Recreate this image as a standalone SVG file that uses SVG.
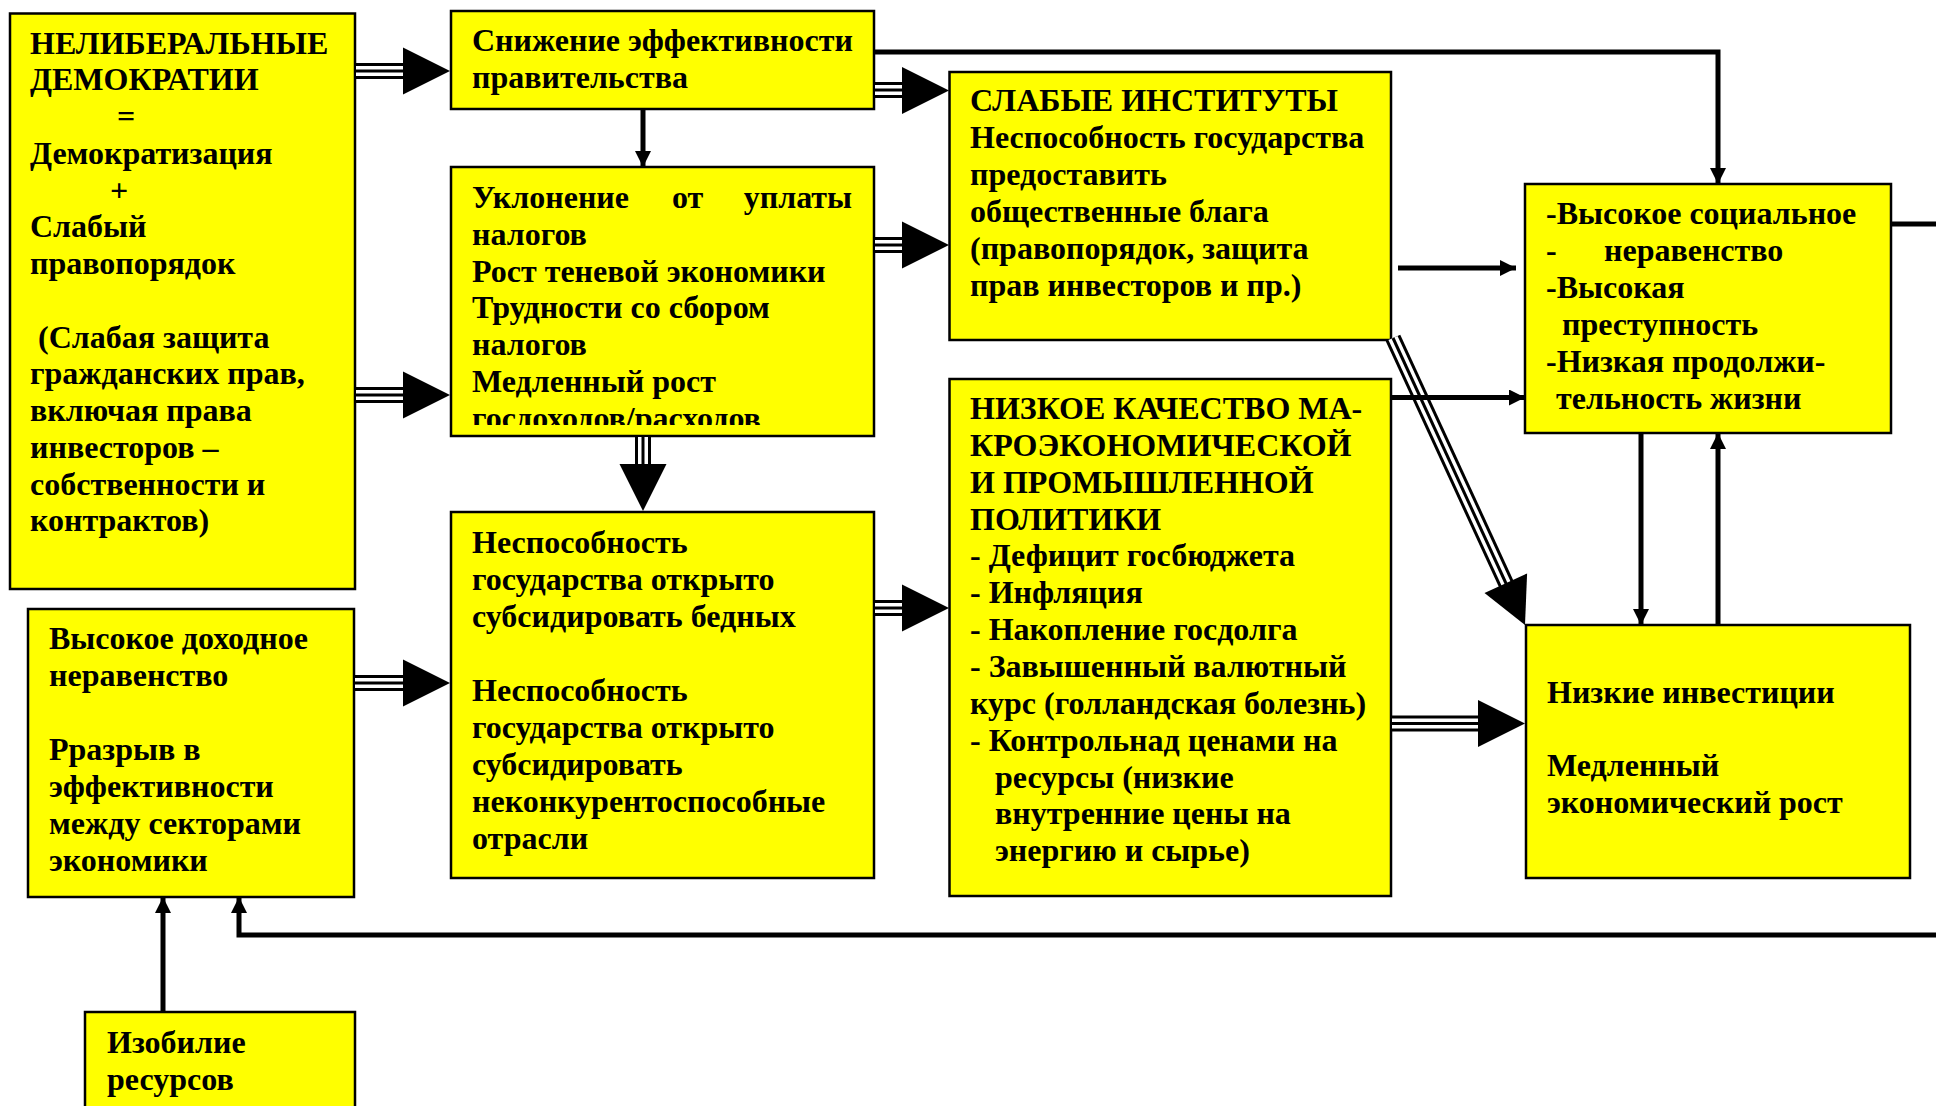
<svg xmlns="http://www.w3.org/2000/svg" width="1936" height="1106" viewBox="0 0 1936 1106">
<style>
.box{fill:#ffff00;stroke:#000;stroke-width:2.5}
.t{font-family:"Liberation Serif","Times New Roman",serif;font-weight:bold;font-size:32px;fill:#000}
.o{fill:none;stroke:#000;stroke-width:16}
.w{fill:none;stroke:#fff;stroke-width:10}
.c{fill:none;stroke:#000;stroke-width:3}
.hd{fill:#000;stroke:none}
.ln{fill:none;stroke:#000;stroke-width:5;marker-end:url(#sa)}
</style>
<defs>
<marker id="sa" viewBox="0 0 16 16" refX="16" refY="8" markerWidth="16" markerHeight="16" markerUnits="userSpaceOnUse" orient="auto">
<path d="M0,0 L16,8 L0,16 Z" fill="#000"/>
</marker>
<clipPath id="clipC"><rect x="451" y="167" width="423" height="258"/></clipPath>
</defs>
<rect width="1936" height="1106" fill="#fff"/>

<g id="nodeA">
<rect class="box" x="10" y="13.5" width="345" height="575.5"/>
<text class="t">
<tspan x="30" y="53.6">НЕЛИБЕРАЛЬНЫЕ</tspan>
<tspan x="30" y="90.4">ДЕМОКРАТИИ</tspan>
<tspan x="117" y="127.1">=</tspan>
<tspan x="30" y="163.9">Демократизация</tspan>
<tspan x="110" y="200.6">+</tspan>
<tspan x="30" y="237.4">Слабый</tspan>
<tspan x="30" y="274.1">правопорядок</tspan>
<tspan x="38" y="347.6">(Слабая защита</tspan>
<tspan x="30" y="384.4">гражданских прав,</tspan>
<tspan x="30" y="421.1">включая права</tspan>
<tspan x="30" y="457.9">инвесторов –</tspan>
<tspan x="30" y="494.6">собственности и</tspan>
<tspan x="30" y="531.4">контрактов)</tspan>
</text>
</g>

<g id="nodeB">
<rect class="box" x="451" y="11" width="423" height="98"/>
<text class="t">
<tspan x="472" y="51">Снижение эффективности</tspan>
<tspan x="472" y="87.5">правительства</tspan>
</text>
</g>

<g id="nodeC">
<rect class="box" x="451" y="167" width="423" height="269"/>
<g clip-path="url(#clipC)">
<text class="t">
<tspan x="472" y="208">Уклонение</tspan>
<tspan x="672" y="208">от</tspan>
<tspan x="860" y="208" text-anchor="end">уплаты</tspan>
<tspan x="472" y="244.8">налогов</tspan>
<tspan x="472" y="281.6">Рост теневой экономики</tspan>
<tspan x="472" y="318.4">Трудности со сбором</tspan>
<tspan x="472" y="355.2">налогов</tspan>
<tspan x="472" y="392">Медленный рост</tspan>
<tspan x="472" y="428.8">госдоходов/расходов</tspan>
</text>
</g>
</g>

<g id="nodeD">
<rect class="box" x="451" y="512" width="423" height="366"/>
<text class="t">
<tspan x="472" y="553">Неспособность</tspan>
<tspan x="472" y="590">государства открыто</tspan>
<tspan x="472" y="627">субсидировать бедных</tspan>
<tspan x="472" y="701">Неспособность</tspan>
<tspan x="472" y="738">государства открыто</tspan>
<tspan x="472" y="775">субсидировать</tspan>
<tspan x="472" y="812">неконкурентоспособные</tspan>
<tspan x="472" y="849">отрасли</tspan>
</text>
</g>

<g id="nodeE">
<rect class="box" x="28" y="609" width="326" height="288"/>
<text class="t">
<tspan x="49" y="649">Высокое доходное</tspan>
<tspan x="49" y="686">неравенство</tspan>
<tspan x="49" y="760">Рразрыв в</tspan>
<tspan x="49" y="797">эффективности</tspan>
<tspan x="49" y="834">между секторами</tspan>
<tspan x="49" y="871">экономики</tspan>
</text>
</g>

<g id="nodeF">
<rect class="box" x="85" y="1012" width="270" height="120"/>
<text class="t">
<tspan x="107" y="1053">Изобилие</tspan>
<tspan x="107" y="1090">ресурсов</tspan>
</text>
</g>

<g id="nodeG">
<rect class="box" x="949.5" y="72" width="441.5" height="268"/>
<text class="t">
<tspan x="970" y="111">СЛАБЫЕ ИНСТИТУТЫ</tspan>
<tspan x="970" y="148">Неспособность государства</tspan>
<tspan x="970" y="185">предоставить</tspan>
<tspan x="970" y="222">общественные блага</tspan>
<tspan x="970" y="259">(правопорядок, защита</tspan>
<tspan x="970" y="296">прав инвесторов и пр.)</tspan>
</text>
</g>

<g id="nodeH">
<rect class="box" x="949.5" y="379" width="441.5" height="517"/>
<text class="t">
<tspan x="970" y="419">НИЗКОЕ КАЧЕСТВО МА-</tspan>
<tspan x="970" y="455.9">КРОЭКОНОМИЧЕСКОЙ</tspan>
<tspan x="970" y="492.7">И ПРОМЫШЛЕННОЙ</tspan>
<tspan x="970" y="529.6">ПОЛИТИКИ</tspan>
<tspan x="970" y="566.4">- Дефицит госбюджета</tspan>
<tspan x="970" y="603.3">- Инфляция</tspan>
<tspan x="970" y="640.1">- Накопление госдолга</tspan>
<tspan x="970" y="677">- Завышенный валютный</tspan>
<tspan x="970" y="713.8">курс (голландская болезнь)</tspan>
<tspan x="970" y="750.7">- Контрольнад ценами на</tspan>
<tspan x="995" y="787.5">ресурсы (низкие</tspan>
<tspan x="995" y="824.4">внутренние цены на</tspan>
<tspan x="995" y="861.2">энергию и сырье)</tspan>
</text>
</g>

<g id="nodeI">
<rect class="box" x="1525" y="184" width="366" height="249"/>
<text class="t">
<tspan x="1546" y="224">-Высокое социальное</tspan>
<tspan x="1546" y="261">-</tspan>
<tspan x="1604" y="261">неравенство</tspan>
<tspan x="1546" y="298">-Высокая</tspan>
<tspan x="1562" y="335">преступность</tspan>
<tspan x="1546" y="372">-Низкая продолжи-</tspan>
<tspan x="1556" y="409">тельность жизни</tspan>
</text>
</g>

<g id="nodeJ">
<rect class="box" x="1526" y="625" width="384" height="253"/>
<text class="t">
<tspan x="1547" y="703">Низкие инвестиции</tspan>
<tspan x="1547" y="776">Медленный</tspan>
<tspan x="1547" y="813">экономический рост</tspan>
</text>
</g>

<g id="connectors">
<!-- A -> B -->
<path class="o" d="M356,71 H404"/><path class="w" d="M356,71 H404"/><path class="c" d="M356,71 H404"/>
<polygon class="hd" points="403,47.5 450,71 403,94.5"/>
<!-- A -> C -->
<path class="o" d="M356,395 H404"/><path class="w" d="M356,395 H404"/><path class="c" d="M356,395 H404"/>
<polygon class="hd" points="403,371.5 450,395 403,418.5"/>
<!-- E -> D -->
<path class="o" d="M355,683 H404"/><path class="w" d="M355,683 H404"/><path class="c" d="M355,683 H404"/>
<polygon class="hd" points="403,659.5 450,683 403,706.5"/>
<!-- B -> G -->
<path class="o" d="M875,90 H903"/><path class="w" d="M875,90 H903"/><path class="c" d="M875,90 H903"/>
<polygon class="hd" points="902,67 949,90.5 902,114"/>
<!-- C -> G -->
<path class="o" d="M875,245 H903"/><path class="w" d="M875,245 H903"/><path class="c" d="M875,245 H903"/>
<polygon class="hd" points="902,221.5 949,245 902,268.5"/>
<!-- D -> H -->
<path class="o" d="M875,608 H903"/><path class="w" d="M875,608 H903"/><path class="c" d="M875,608 H903"/>
<polygon class="hd" points="902,584.5 949,608 902,631.5"/>
<!-- H -> J -->
<path class="o" d="M1392,723.5 H1479"/><path class="w" d="M1392,723.5 H1479"/><path class="c" d="M1392,723.5 H1479"/>
<polygon class="hd" points="1478,700 1525,723.5 1478,747"/>
<!-- C -> D -->
<path class="o" d="M643,437 V465"/><path class="w" d="M643,437 V465"/><path class="c" d="M643,437 V465"/>
<polygon class="hd" points="619.5,464 643,511 666.5,464"/>
<!-- G -> J diagonal -->
<path class="o" d="M1393,338 L1506.5,584.5"/><path class="w" d="M1393,338 L1506.5,584.5"/><path class="c" d="M1393,338 L1506.5,584.5"/>
<polygon class="hd" points="1527.1,573.4 1525,625 1484.5,593"/>
<!-- B -> C -->
<path class="ln" d="M643,109 V167"/>
<!-- B -> I -->
<path class="ln" d="M874,52 H1718 V184"/>
<!-- G -> I -->
<path class="ln" d="M1398,268 H1516"/>
<!-- H -> I -->
<path class="ln" d="M1391,397.5 H1525"/>
<!-- I -> J -->
<path class="ln" d="M1641,433 V625"/>
<!-- J -> I -->
<path class="ln" d="M1718,625 V433"/>
<!-- I -> E feedback loop -->
<path class="ln" d="M1891,224 H1960 V935 H239 V897"/>
<!-- F -> E -->
<path class="ln" d="M163,1012 V897"/>
</g>
</svg>
